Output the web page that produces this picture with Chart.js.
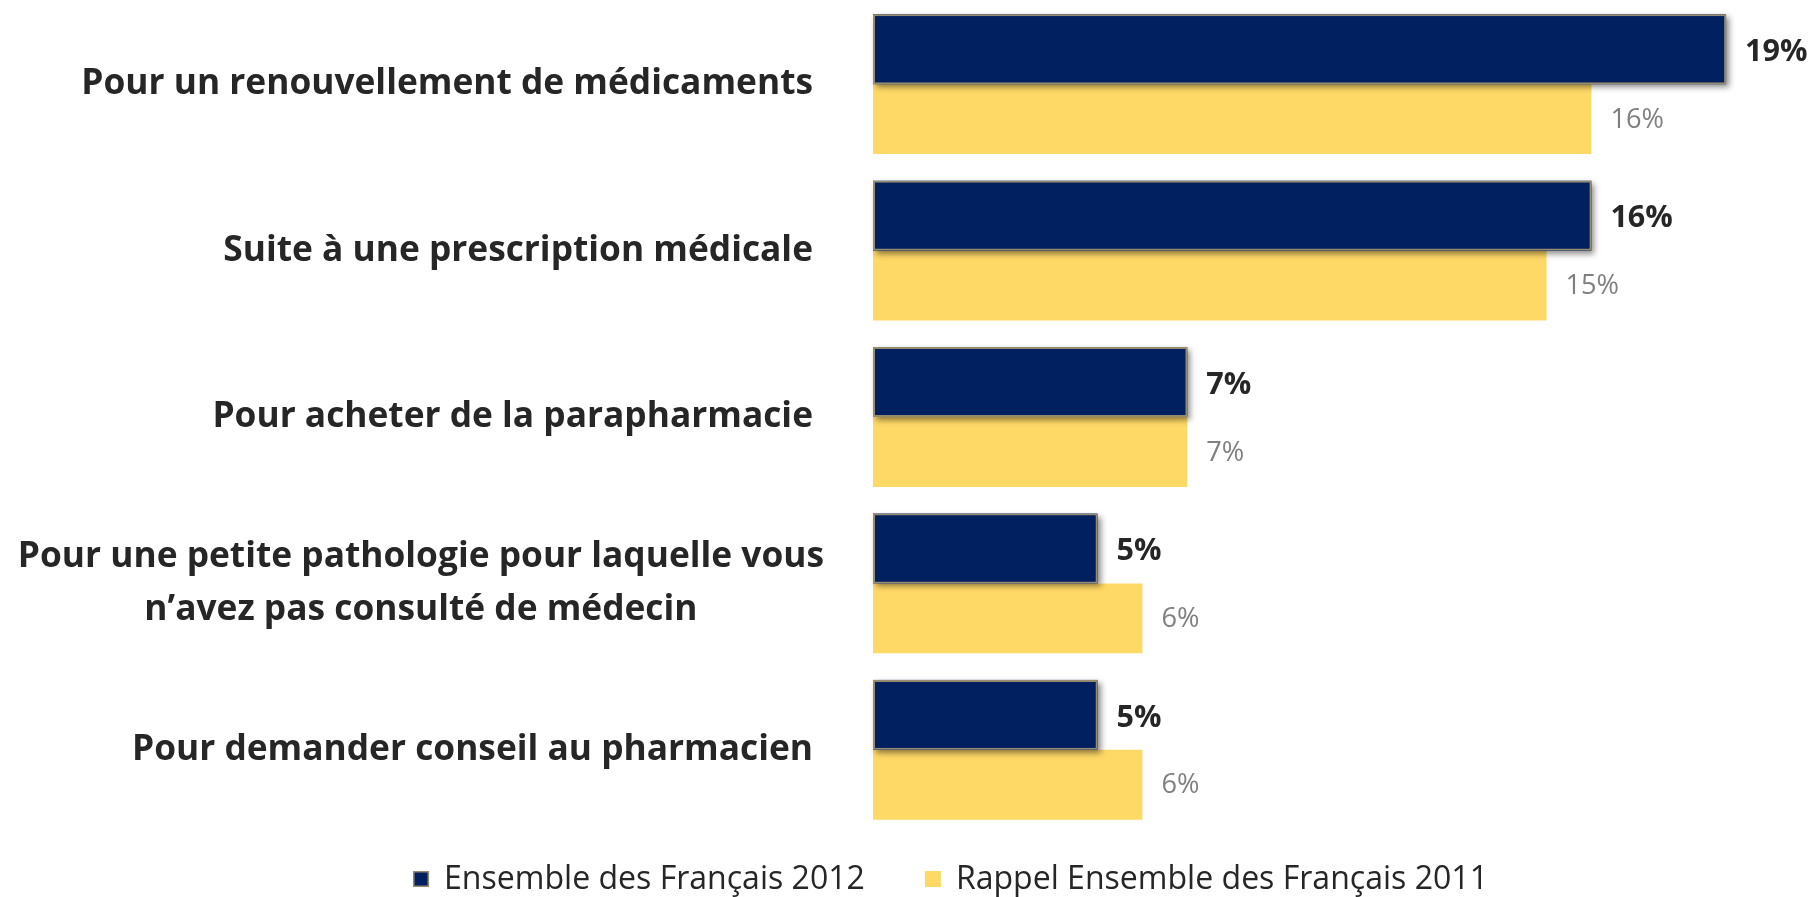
<!DOCTYPE html>
<html><head><meta charset="utf-8">
<script src="https://cdn.jsdelivr.net/npm/chart.js@4"></script>
<style>html,body{margin:0;padding:0;background:#fff;}#wrap{width:1813px;height:897px;}</style>
</head><body><div id="wrap"><canvas id="c" width="1813" height="897"></canvas></div>
<script>
const categories = [
  ["Pour un renouvellement de médicaments"],
  ["Suite à une prescription médicale"],
  ["Pour acheter de la parapharmacie"],
  ["Pour une petite pathologie pour laquelle vous", "n’avez pas consulté de médecin"],
  ["Pour demander conseil au pharmacien"]
];
const series2012 = [19, 16, 7, 5, 5];
const series2011 = [16, 15, 7, 6, 6];
const seriesNames = ["Ensemble des Français 2012", "Rappel Ensemble des Français 2011"];
const valueSuffix = "%";

const FONT = "'Open Sans', 'Noto Sans', sans-serif";
const NAVY = '#002060', YELLOW = '#FFD966', TAN = '#978b6e';

// fit a font size so that a given text reaches a target width
function fitSize(ctx, text, weight, target) {
  ctx.save();
  ctx.font = weight + ' 100px ' + FONT;
  const w = ctx.measureText(text).width;
  ctx.restore();
  return 100 * target / w;
}

const barShadow = {
  id: 'barShadow',
  beforeDatasetDraw(chart, args) {
    if (args.index !== 0) return;
    const ctx = chart.ctx;
    ctx.save();
    ctx.shadowColor = 'rgba(0,0,0,0.45)';
    ctx.shadowBlur = 6;
    ctx.shadowOffsetX = 3;
    ctx.shadowOffsetY = 3;
    ctx.fillStyle = NAVY;
    args.meta.data.forEach(el => {
      const p = el.getProps(['x', 'y', 'base', 'height'], true);
      const left = Math.min(p.x, p.base), w = Math.abs(p.x - p.base);
      ctx.fillRect(left, p.y - p.height / 2, w, p.height);
    });
    ctx.restore();
  }
};

const valueLabels = {
  id: 'valueLabels',
  afterDatasetsDraw(chart) {
    const ctx = chart.ctx;
    const sBold = fitSize(ctx, '5%', 'bold', 45);
    const sReg = fitSize(ctx, '6%', 'normal', 38);
    chart.data.datasets.forEach((ds, di) => {
      const meta = chart.getDatasetMeta(di);
      ctx.save();
      ctx.font = (di === 0 ? 'bold ' + sBold : 'normal ' + sReg) + 'px ' + FONT;
      ctx.fillStyle = di === 0 ? '#262626' : '#7f7f7f';
      ctx.textAlign = 'left';
      ctx.textBaseline = 'middle';
      meta.data.forEach((el, i) => {
        const p = el.getProps(['x', 'y'], true);
        ctx.fillText(ds.data[i] + valueSuffix, p.x + 19, p.y + (di === 0 ? 3 : 1));
      });
      ctx.restore();
    });
  }
};

const categoryLabels = {
  id: 'categoryLabels',
  afterDraw(chart) {
    const ctx = chart.ctx;
    const ys = chart.scales.y;
    const size = fitSize(ctx, categories[0][0], 'bold', 732);
    const lineH = 53;
    ctx.save();
    ctx.font = 'bold ' + size + 'px ' + FONT;
    ctx.fillStyle = '#262626';
    ctx.textBaseline = 'middle';
    categories.forEach((lines, i) => {
      const yc = ys.getPixelForValue(i);
      if (lines.length === 1) {
        ctx.textAlign = 'right';
        ctx.fillText(lines[0], 813, yc);
      } else {
        const widest = Math.max(...lines.map(l => ctx.measureText(l).width));
        const cx = 824 - widest / 2;
        ctx.textAlign = 'center';
        lines.forEach((l, k) => {
          ctx.fillText(l, cx, yc + (k - (lines.length - 1) / 2) * lineH);
        });
      }
    });
    ctx.restore();
  }
};

const customLegend = {
  id: 'customLegend',
  afterDraw(chart) {
    const ctx = chart.ctx;
    const size = fitSize(ctx, seriesNames[0], 'normal', 421);
    ctx.save();
    ctx.font = 'normal ' + size + 'px ' + FONT;
    ctx.textBaseline = 'middle';
    ctx.textAlign = 'left';
    const box = 16, gap = 15, itemGap = 60;
    const items = chart.data.datasets.map(ds => ({
      text: ds.label, color: ds.backgroundColor, border: ds.borderWidth > 0 ? ds.borderColor : null,
      w: ctx.measureText(ds.label).width
    }));
    const total = items.reduce((s, it) => s + box + gap + it.w, 0) + itemGap * (items.length - 1);
    let x = 950.5 - total / 2;
    const yc = 879;
    items.forEach(it => {
      ctx.fillStyle = it.color;
      ctx.fillRect(x, yc - box / 2, box, box);
      if (it.border) {
        ctx.strokeStyle = it.border;
        ctx.lineWidth = 1.5;
        ctx.strokeRect(x + 0.75, yc - box / 2 + 0.75, box - 1.5, box - 1.5);
      }
      ctx.fillStyle = '#262626';
      ctx.fillText(it.text, x + box + gap, yc + 1);
      x += box + gap + it.w + itemGap;
    });
    ctx.restore();
  }
};

new Chart(document.getElementById('c'), {
  type: 'bar',
  data: {
    labels: categories,
    datasets: [
      { label: seriesNames[0], data: series2012, backgroundColor: NAVY, borderColor: TAN, borderWidth: 2, borderSkipped: false,
        categoryPercentage: 0.84, barPercentage: 1 },
      { label: seriesNames[1], data: series2011, backgroundColor: YELLOW, borderWidth: 0,
        categoryPercentage: 0.84, barPercentage: 1 }
    ]
  },
  options: {
    indexAxis: 'y',
    responsive: false,
    animation: false,
    devicePixelRatio: 1,
    layout: { padding: { left: 873, right: 42, top: 1, bottom: 64 } },
    scales: {
      x: { display: false, min: 0, max: 20 },
      y: { display: false }
    },
    plugins: { legend: { display: false }, tooltip: { enabled: false } }
  },
  plugins: [barShadow, valueLabels, categoryLabels, customLegend]
});
</script></body></html>
